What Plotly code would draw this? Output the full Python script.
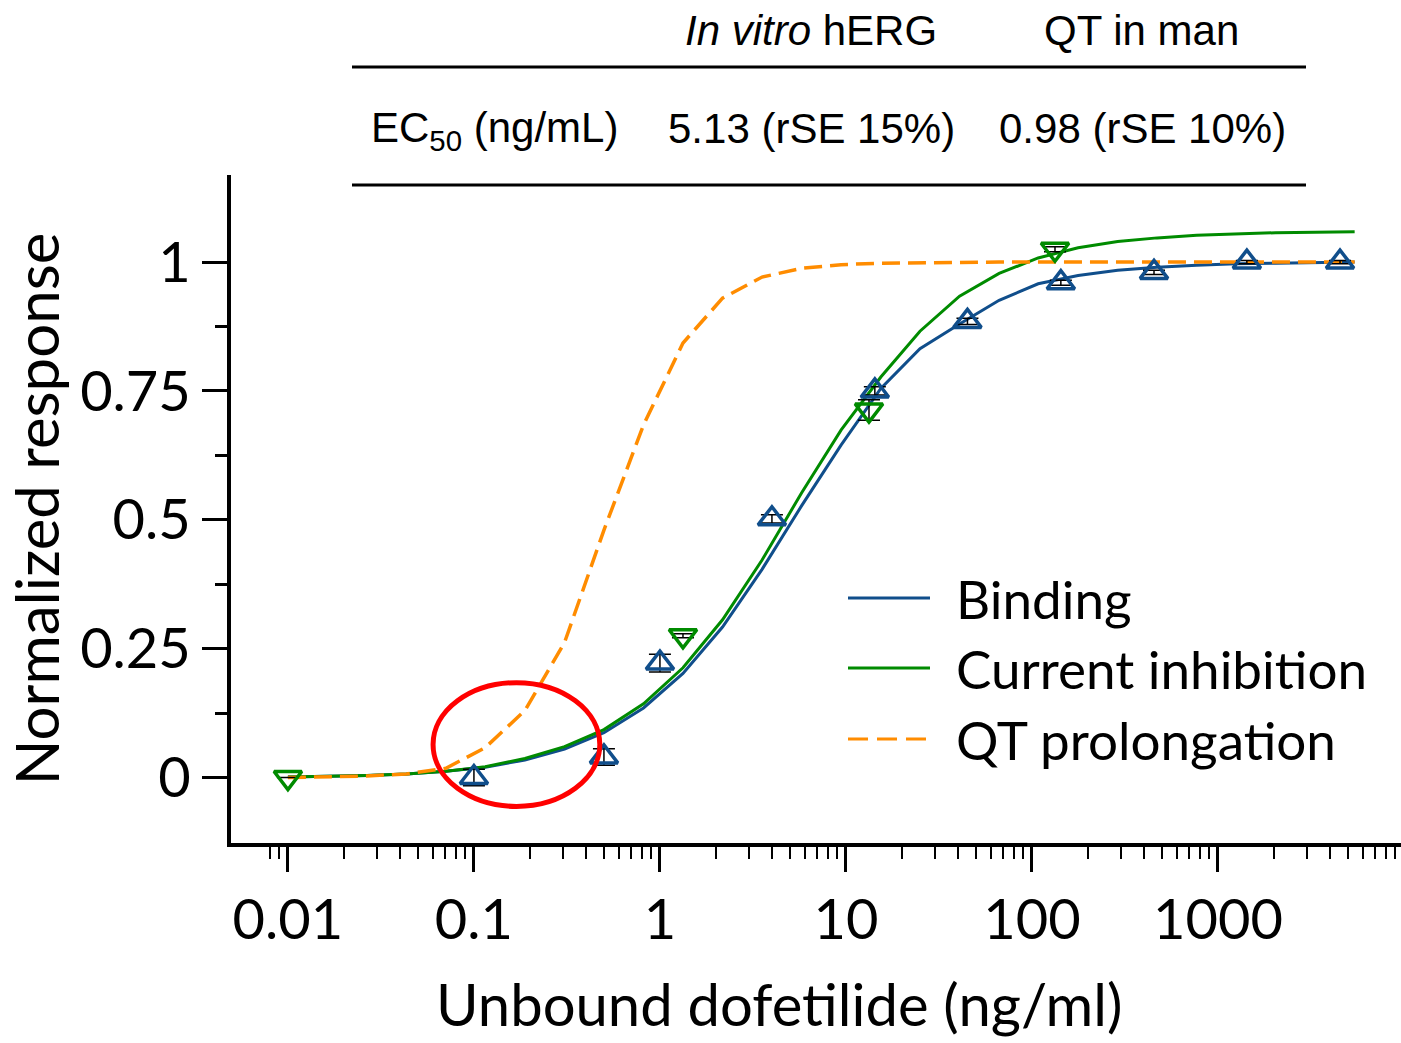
import plotly.graph_objects as go

# ---------------- data ----------------
curve_conc = [0.01, 0.0163, 0.0266, 0.0434, 0.0707, 0.115, 0.188, 0.307, 0.500, 0.816,
              1.33, 2.17, 3.54, 5.77, 9.41, 15.4, 25.0, 40.8, 66.6, 108,
              177, 289, 471, 768, 1250, 2040, 3330, 5430]
binding_curve = [0.001, 0.002, 0.004, 0.007, 0.012, 0.020, 0.034, 0.055, 0.087, 0.135,
                 0.202, 0.292, 0.404, 0.527, 0.645, 0.755, 0.832, 0.880, 0.926, 0.958,
                 0.974, 0.984, 0.990, 0.994, 0.997, 0.998, 0.999, 1.000]
current_curve = [0.001, 0.002, 0.004, 0.007, 0.012, 0.021, 0.037, 0.060, 0.093, 0.143,
                 0.213, 0.306, 0.422, 0.552, 0.674, 0.777, 0.866, 0.934, 0.978, 1.008,
                 1.028, 1.040, 1.047, 1.052, 1.055, 1.057, 1.058, 1.059]
qt_curve = [0.000, 0.001, 0.003, 0.007, 0.018, 0.058, 0.130, 0.262, 0.480, 0.684,
            0.843, 0.930, 0.971, 0.988, 0.995, 0.998, 0.999, 1.000, 1.000, 1.000,
            1.000, 1.000, 1.000, 1.000, 1.000, 1.000, 1.000, 1.000]

binding_conc = [0.1, 0.5, 1.0, 4.0, 14.3, 45, 143, 453, 1430, 4530]
binding_resp = [0.0, 0.04, 0.222, 0.502, 0.75, 0.885, 0.96, 0.98, 1.0, 1.0]
binding_err = [0.016, 0.016, 0.017, 0.008, 0.008, 0.006, 0.005, 0.004, 0.003, 0.003]

current_conc = [0.01, 1.33, 13.3, 133]
current_resp = [0.0, 0.275, 0.713, 1.025]
current_err = [0.0, 0.004, 0.02, 0.005]

series_names = ["Binding", "Current inhibition", "QT prolongation"]
x_tickvals = [0.01, 0.1, 1, 10, 100, 1000]
x_ticktext = ["0.01", "0.1", "1", "10", "100", "1000"]
y_tickvals = [0, 0.25, 0.5, 0.75, 1]
y_ticktext = ["0", "0.25", "0.5", "0.75", "1"]
x_title = "Unbound dofetilide (ng/ml)"
y_title = "Normalized response"

table_header = ["<i>In vitro</i> hERG", "QT in man"]
table_row = ["EC<sub>50</sub> (ng/mL)", "5.13 (rSE 15%)", "0.98 (rSE 10%)"]

# ---------------- style ----------------
BLUE = "#104E8B"
GREEN = "#008B00"
ORANGE = "#FF8C00"
FONT = "Lato"
QT_DASH = "18px,8px"

PL, PR, PT, PB = 231, 1401, 175, 843
W, H = 1401, 1043


def px_x(px):
    return (px - PL) / (PR - PL)


def px_y(py):
    return (PB - py) / (PB - PT)


x_minor = []
for dec in [0.001, 0.01, 0.1, 1, 10, 100, 1000]:
    for m in range(2, 10):
        v = round(dec * m, 6)
        if 0.0075 < v < 9500:
            x_minor.append(v)

fig = go.Figure()

fig.add_trace(go.Scatter(x=curve_conc, y=binding_curve, mode="lines",
                         line=dict(color=BLUE, width=3), name=series_names[0]))
fig.add_trace(go.Scatter(x=curve_conc, y=current_curve, mode="lines",
                         line=dict(color=GREEN, width=3), name=series_names[1]))
fig.add_trace(go.Scatter(x=curve_conc, y=qt_curve, mode="lines",
                         line=dict(color=ORANGE, width=3.5, dash=QT_DASH), name=series_names[2]))

fig.add_trace(go.Scatter(x=binding_conc, y=binding_resp, mode="markers",
                         marker=dict(symbol="triangle-up-open", size=24, color=BLUE,
                                     line=dict(width=3.5, color=BLUE)),
                         error_y=dict(type="data", array=binding_err, color="black",
                                      thickness=1.5, width=11),
                         showlegend=False))
fig.add_trace(go.Scatter(x=current_conc, y=current_resp, mode="markers",
                         marker=dict(symbol="triangle-down-open", size=24, color=GREEN,
                                     line=dict(width=3.5, color=GREEN)),
                         error_y=dict(type="data", array=current_err, color="black",
                                      thickness=1.5, width=11),
                         showlegend=False))

shapes = []
annotations = []

# red highlight ellipse
shapes.append(dict(type="circle", xref="x", yref="y", x0=0.0603, x1=0.475,
                   y0=-0.056, y1=0.184, line=dict(color="#FF0000", width=5)))

# manual legend
legend_colors = [BLUE, GREEN, ORANGE]
legend_dash = ["solid", "solid", "20px,9px"]
legend_y = [598, 668, 739]
for name, col, dsh, ly in zip(series_names, legend_colors, legend_dash, legend_y):
    shapes.append(dict(type="line", xref="paper", yref="paper",
                       x0=px_x(848), x1=px_x(930), y0=px_y(ly), y1=px_y(ly),
                       line=dict(color=col, width=3, dash=dsh)))
    annotations.append(dict(text=name, xref="paper", yref="paper", x=px_x(954), y=px_y(ly),
                            xanchor="left", yanchor="middle", showarrow=False,
                            font=dict(family=FONT, size=53, color="black")))

# x-axis title (placed as in the reference, left of plot centre)
annotations.append(dict(text=x_title, xref="paper", yref="paper", x=px_x(779), y=px_y(1003),
                        xanchor="center", yanchor="middle", showarrow=False,
                        font=dict(family=FONT, size=58, color="black")))

# table
TFONT = dict(family="Liberation Sans, Arial", size=42, color="black")
for y_line in [67, 185]:
    shapes.append(dict(type="line", xref="paper", yref="paper",
                       x0=px_x(352), x1=px_x(1306), y0=px_y(y_line), y1=px_y(y_line),
                       line=dict(color="black", width=3)))
annotations.append(dict(text=table_header[0], xref="paper", yref="paper", x=px_x(811), y=px_y(30),
                        xanchor="center", yanchor="middle", showarrow=False, font=TFONT))
annotations.append(dict(text=table_header[1], xref="paper", yref="paper", x=px_x(1141), y=px_y(30),
                        xanchor="center", yanchor="middle", showarrow=False, font=TFONT))
annotations.append(dict(text=table_row[0], xref="paper", yref="paper", x=px_x(369), y=px_y(130),
                        xanchor="left", yanchor="middle", showarrow=False, font=TFONT))
annotations.append(dict(text=table_row[1], xref="paper", yref="paper", x=px_x(811), y=px_y(128),
                        xanchor="center", yanchor="middle", showarrow=False, font=TFONT))
annotations.append(dict(text=table_row[2], xref="paper", yref="paper", x=px_x(1142), y=px_y(128),
                        xanchor="center", yanchor="middle", showarrow=False, font=TFONT))

fig.update_layout(
    width=W, height=H,
    margin=dict(l=PL, r=W - PR, t=PT, b=H - PB),
    plot_bgcolor="white", paper_bgcolor="white",
    showlegend=False,
    shapes=shapes, annotations=annotations,
    font=dict(family=FONT, color="black"),
)

fig.update_xaxes(
    type="log", range=[-2.306, 3.984],
    showline=True, linecolor="black", linewidth=4, mirror=False,
    showgrid=False, zeroline=False,
    ticks="outside", ticklen=25, tickwidth=3, tickcolor="black",
    tickvals=x_tickvals, ticktext=x_ticktext,
    tickfont=dict(family=FONT, size=56, color="black"),
    ticklabelstandoff=0,
    minor=dict(tickmode="array", tickvals=x_minor, ticks="outside", ticklen=12,
               tickwidth=2, tickcolor="black", showgrid=False),
)
fig.update_yaxes(
    range=[-0.127, 1.169],
    showline=True, linecolor="black", linewidth=4,
    showgrid=False, zeroline=False,
    ticks="outside", ticklen=25, tickwidth=3, tickcolor="black",
    tickvals=y_tickvals, ticktext=y_ticktext,
    tickfont=dict(family=FONT, size=56, color="black"),
    ticklabelstandoff=0,
    minor=dict(tickmode="array", tickvals=[0.125, 0.375, 0.625, 0.875], ticks="outside",
               ticklen=12, tickwidth=3, tickcolor="black", showgrid=False),
    title=dict(text=y_title, font=dict(family=FONT, size=60, color="black"),
               standoff=14),
)

fig.write_html("out.html")
